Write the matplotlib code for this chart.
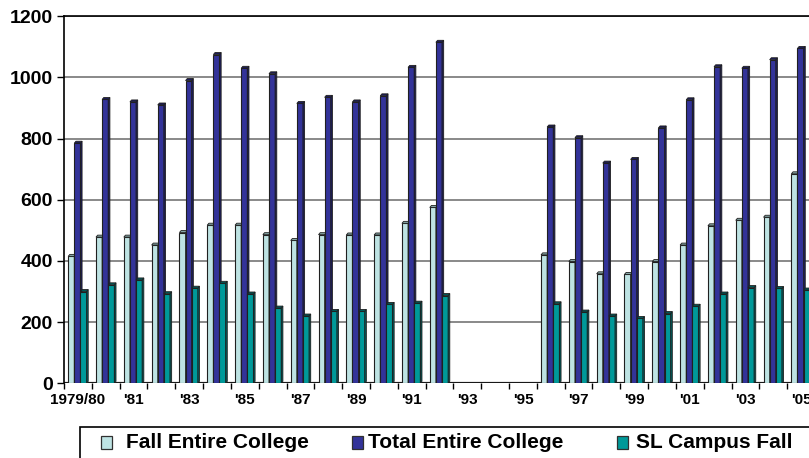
import matplotlib.pyplot as plt
from matplotlib.patches import Polygon, Rectangle

# Enrollment by year
years = ['1979/80', "'80", "'81", "'82", "'83", "'84", "'85", "'86", "'87", "'88",
         "'89", "'90", "'91", "'92", "'93", "'94", "'95", "'96", "'97", "'98",
         "'99", "'00", "'01", "'02", "'03", "'04", "'05"]
fall_entire = [415, 478, 478, 452, 493, 517, 517, 486, 467, 486,
               485, 485, 523, 575, 0, 0, 0, 420, 398, 358,
               356, 398, 452, 515, 533, 543, 685]
total_entire = [785, 928, 920, 910, 990, 1075, 1030, 1012, 915, 935,
                920, 940, 1033, 1115, 0, 0, 0, 838, 803, 720,
                732, 835, 927, 1035, 1030, 1058, 1095]
sl_campus = [300, 322, 338, 293, 311, 327, 292, 246, 220, 235,
             235, 258, 262, 287, 0, 0, 0, 260, 233, 220,
             212, 228, 252, 292, 313, 310, 305]

series = [
    ('Fall Entire College', fall_entire, '#BEE3E3', '#86A6A6'),
    ('Total Entire College', total_entire, '#333399', '#1C1C58'),
    ('SL Campus Fall', sl_campus, '#009999', '#005858'),
]

plt.rcParams['font.family'] = ['Liberation Sans', 'DejaVu Sans']
plt.rcParams['font.weight'] = 'bold'

fig = plt.figure(figsize=(8.09, 4.58), dpi=100)
ax = fig.add_axes([64 / 809, 1 - 383.3 / 458, 751 / 809, 367 / 458])

w = 0.22
dx, dy = 0.06, 6.5
offsets = [-0.24, -0.02, 0.20]
x = list(range(len(years)))

for k, (name, vals, face, side) in enumerate(series):
    for i, v in zip(x, vals):
        x0 = i + offsets[k] - w / 2
        z = 3 + k
        ax.bar(x0, v, width=w, align='edge', color=face, edgecolor='#202020',
               linewidth=0.8, zorder=z)
        if v > 0:
            ax.add_patch(Polygon([(x0 + w, 0), (x0 + w + dx, dy), (x0 + w + dx, v + dy), (x0 + w, v)],
                                 closed=True, facecolor=side, edgecolor='#202020',
                                 linewidth=0.6, zorder=z))
            ax.add_patch(Polygon([(x0, v), (x0 + dx, v + dy), (x0 + w + dx, v + dy), (x0 + w, v)],
                                 closed=True, facecolor=side, edgecolor='#202020',
                                 linewidth=0.6, zorder=z))

# floor of the chart
ax.axhline(0, color='black', linewidth=1.2, zorder=2)
ax.axhline(5, color='#909090', linewidth=1.0, zorder=1)

ax.set_xlim(-0.5, 26.5)
ax.set_ylim(0, 1200)
ax.set_yticks(range(0, 1201, 200))
ax.yaxis.grid(True, color='#808080', linewidth=1.3, zorder=0)
ax.set_axisbelow(True)
ax.tick_params(axis='y', labelsize=14, length=5, width=1, pad=3)
for t in ax.get_yticklabels():
    t.set_fontweight('bold')

ax.set_xticks(x[::2])
ax.set_xticklabels(years[::2], fontsize=11, fontweight='bold',
                   family=['Liberation Sans Narrow', 'Liberation Sans'])
ax.set_xticks([i - 0.5 for i in range(len(years) + 1)], minor=True)
ax.tick_params(axis='x', which='major', length=0, pad=7)
ax.tick_params(axis='x', which='minor', length=4, width=1)

ax.spines['right'].set_visible(False)
ax.spines['bottom'].set_visible(False)
ax.spines['top'].set_linewidth(1.2)
ax.spines['left'].set_linewidth(1.2)

# legend box, running off the right and bottom edges
fig.patches.append(Rectangle((80 / 809, -0.1), 1.0, 1 - 427 / 458 + 0.1,
                             transform=fig.transFigure, facecolor='white',
                             edgecolor='black', linewidth=1.2))
key_x = [101, 352, 617]
text_x = [126, 368, 636]
for (name, _, face, _), kx, tx in zip(series, key_x, text_x):
    fig.patches.append(Rectangle((kx / 809, 1 - 449 / 458), 11 / 809, 13 / 458,
                                 transform=fig.transFigure, facecolor=face,
                                 edgecolor='#303030', linewidth=0.9))
    fig.text(tx / 809, 1 - 442 / 458, name, fontsize=15, fontweight='bold',
             ha='left', va='center')

fig.savefig('out.png', dpi=100)
